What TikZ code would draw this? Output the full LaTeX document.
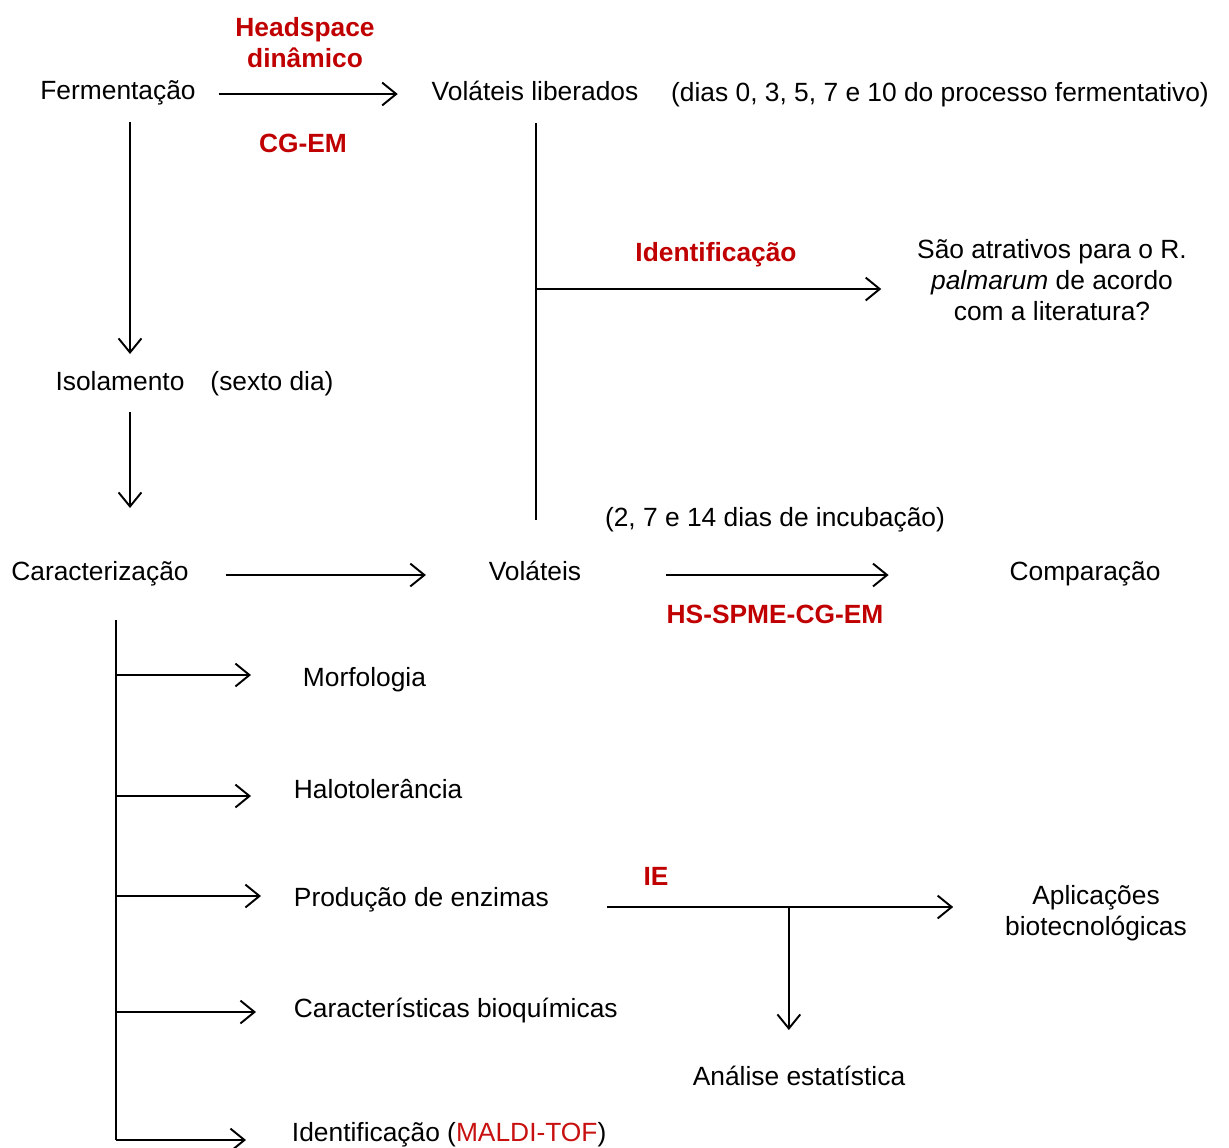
\documentclass[tikz,border=0pt]{standalone}
\usepackage{fontspec}
\setmainfont{Liberation Sans}
\usetikzlibrary{arrows.meta,calc}
\definecolor{tagred}{RGB}{192,0,0}
\definecolor{maldired}{RGB}{200,16,16}
\tikzset{
  lbl/.style={inner sep=0pt, anchor=base, font=\fontsize{15}{17.6}\selectfont},
  lblm/.style={inner sep=0pt, align=center, font=\fontsize{15}{17.6}\selectfont},
  tag/.style={lbl, text=tagred, font=\fontsize{15}{17.6}\selectfont\bfseries},
  tagm/.style={lblm, text=tagred, font=\fontsize{15}{17.6}\selectfont\bfseries},
}
\begin{document}
\begin{tikzpicture}[x=0.02cm, y=-0.02cm, line width=1.1pt, >={Straight Barb[length=8pt,width=13pt]}]
\useasboundingbox (0,0) rectangle (1229,1147);

% main stages
\node[lbl] (ferm) at (118,99) {Fermentação};
\node[lbl] (volib) at (535,100) {Voláteis liberados};
\node[lbl] (dias) at (940,101) {(dias 0, 3, 5, 7 e 10 do processo fermentativo)};
\node[lblm] (sao) at (1052,280) {São atrativos para o R.\\ \textit{palmarum} de acordo\\ com a literatura?};
\node[lbl] (isol) at (120,390) {Isolamento};
\node[lbl] (sexto) at (272,390) {(sexto dia)};
\node[lbl] (carac) at (100,580) {Caracterização};
\node[lbl] (volat) at (535,580) {Voláteis};
\node[lbl] (incub) at (775,526) {(2, 7 e 14 dias de incubação)};
\node[lbl] (comp) at (1085,580) {Comparação};

% characterisation items
\node[lbl, anchor=base west] (morf) at (302,686) {Morfologia};
\node[lbl, anchor=base west] (halo) at (293,798) {Halotolerância};
\node[lbl, anchor=base west] (enz) at (293,906) {Produção de enzimas};
\node[lbl, anchor=base west] (bioq) at (293,1017) {Características bioquímicas};
\node[lbl, anchor=base west] (maldi) at (291,1141) {Identificação (\textcolor{maldired}{MALDI-TOF})};
\node[lblm] (aplic) at (1096,913) {Aplicações\\ biotecnológicas};
\node[lbl] (stat) at (799,1085) {Análise estatística};

% methods
\node[tagm] (hsd) at (305,43) {Headspace\\ dinâmico};
\node[tag] (cgem) at (303,152) {CG-EM};
\node[tag] (ident) at (716,261) {Identificação};
\node[tag] (hsspme) at (775,623) {HS-SPME-CG-EM};
\node[tag] (ie) at (656,885) {IE};

% connectors
\draw[->] ($(ferm.base east)+(22,-5)$) -- ($(volib.base west)+(-33,-6)$);
\draw[->] ($(ferm.base)+(12,23)$) -- ($(isol.base)+(10,-36)$);
\draw[->] ($(isol.base)+(10,22)$) -- ($(carac.base)+(30,-72)$);
\draw ($(volib.base)+(1,23)$) -- ($(volat.base)+(1,-60)$);
\coordinate (vbr) at ($(volib.base)+(1,189)$);
\draw[->] (vbr) -- ($(vbr -| sao.west)+(-35,0)$);
\draw[->] ($(carac.base east)+(36,-5)$) -- ($(volat.base west)+(-62,-5)$);
\draw[->] ($(volat.base east)+(84,-5)$) -- ($(comp.base west)+(-120,-5)$);

% branches of the characterisation
\coordinate (ctop) at ($(carac.base)+(16,40)$);
\draw (ctop) -- ($(ctop |- maldi.base)+(0,-1)$);
\foreach \n/\dy/\gap in {morf/-11/51, halo/-2/42, enz/-10/32, bioq/-5/37, maldi/-1/45}
  \draw[->] ($(ctop |- \n.base)+(0,\dy)$) -- ($(\n.base west)+(-\gap,\dy)$);

\draw[->] ($(enz.base east)+(57,1)$) coordinate (ein) -- ($(ein -| aplic.west)+(-51,0)$);
\coordinate (tee) at ($(ein)+(182,0)$);
\draw[->] (tee) -- ($(tee |- stat.base)+(0,-55)$);
\end{tikzpicture}
\end{document}
